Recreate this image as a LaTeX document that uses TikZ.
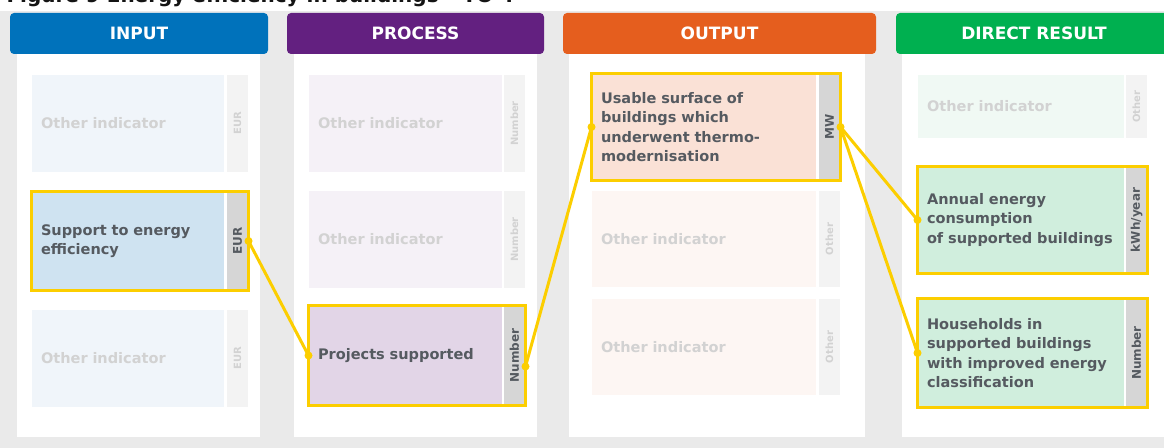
\documentclass[tikz,border=0pt]{standalone}
\usepackage{fontspec}
\setmainfont{DejaVu Sans}

\definecolor{ink}{RGB}{85,90,96}
\definecolor{fade}{RGB}{210,210,210}
\definecolor{bgcol}{RGB}{234,234,234}
\definecolor{tabgrey}{RGB}{214,214,214}
\definecolor{tabpale}{RGB}{243,243,243}
\definecolor{hlyellow}{RGB}{252,206,0}
\definecolor{inblue}{RGB}{0,114,187}
\definecolor{infill}{RGB}{207,227,241}
\definecolor{inpale}{RGB}{240,245,250}
\definecolor{prpurple}{RGB}{99,32,128}
\definecolor{prfill}{RGB}{226,213,231}
\definecolor{prpale}{RGB}{245,241,247}
\definecolor{ouorange}{RGB}{229,94,30}
\definecolor{oufill}{RGB}{250,225,214}
\definecolor{oupale}{RGB}{253,246,243}
\definecolor{drgreen}{RGB}{0,176,80}
\definecolor{drfill}{RGB}{208,238,221}
\definecolor{drpale}{RGB}{240,249,244}

\tikzset{every picture/.style={line width=0.75pt}}
\tikzset{
  hdr/.style={rectangle, rounded corners=3pt, text=white, inner sep=0pt,
    minimum height=30.75pt, font=\fontsize{12.75}{15}\selectfont\bfseries},
  ind/.style={rectangle, inner xsep=6.75pt, inner ysep=0pt, align=left, text=ink,
    font=\fontsize{10.9}{14.6}\selectfont\bfseries},
  faded/.style={ind, text=fade},
  unit/.style={rectangle, inner sep=0pt, minimum width=15.75pt, fill=tabgrey, text=ink,
    font=\fontsize{9}{9}\selectfont\bfseries},
  fadeunit/.style={unit, fill=tabpale, text=fade, font=\fontsize{7.5}{7.5}\selectfont\bfseries},
  hlbox/.style={draw=hlyellow, line width=2.25pt},
  link/.style={draw=hlyellow, line width=2.25pt},
}

\begin{document}
\begin{tikzpicture}[x=0.75pt,y=0.75pt,yscale=-1,xscale=1]
        \useasboundingbox (0,0) rectangle (1164,448);
        \clip (0,0) rectangle (1164,448);
        \fill[bgcol] (0,0) rectangle (1164,448);
        \fill[white] (0,0) rectangle (1164,11);
        \node[anchor=base west, inner sep=0pt, text={rgb,255:red,20;green,20;blue,20}, font=\fontsize{15}{18}\selectfont\bfseries] (title) at (6,3) {Figure 9 Energy efficiency in buildings – TO 4};

        % panels
        \fill[white] (17,54) rectangle (260,437);
        \fill[white] (294,54) rectangle (537,437);
        \fill[white] (569,54) rectangle (865,437);
        \fill[white] (902,54) rectangle (1164,437);

        % headers
        \node[hdr, fill=inblue, minimum width=193.5pt] (hin) at (139,33.5) {INPUT};
        \node[hdr, fill=prpurple, minimum width=192.75pt] (hpr) at (415.5,33.5) {PROCESS};
        \node[hdr, fill=ouorange, minimum width=234.75pt] (hou) at (719.5,33.5) {OUTPUT};
        \node[hdr, fill=drgreen, minimum width=207pt] (hdr) at (1034,33.5) {DIRECT RESULT};

        % input
        \node[faded, fill=inpale, text width=130.5pt, minimum height=72.75pt] (in1) at (128,123.5) {Other indicator};
        \node[fadeunit, minimum height=72.75pt] (in1u) at (237.5,123.5) {\rotatebox{90}{EUR}};
        \node[ind, fill=infill, text width=130.5pt, minimum height=73.5pt] (in2) at (128,241) {Support to energy\\efficiency};
        \node[unit, minimum height=73.5pt] (in2u) at (237.5,241) {\rotatebox{90}{EUR}};
        \node[faded, fill=inpale, text width=130.5pt, minimum height=72.75pt] (in3) at (128,358.5) {Other indicator};
        \node[fadeunit, minimum height=72.75pt] (in3u) at (237.5,358.5) {\rotatebox{90}{EUR}};

        % process
        \node[faded, fill=prpale, text width=131.25pt, minimum height=72.75pt] (pr1) at (405.5,123.5) {Other indicator};
        \node[fadeunit, minimum height=72.75pt] (pr1u) at (514.5,123.5) {\rotatebox{90}{Number}};
        \node[faded, fill=prpale, text width=131.25pt, minimum height=72.75pt] (pr2) at (405.5,239.5) {Other indicator};
        \node[fadeunit, minimum height=72.75pt] (pr2u) at (514.5,239.5) {\rotatebox{90}{Number}};
        \node[ind, fill=prfill, text width=131.25pt, minimum height=74.25pt] (pr3) at (405.5,355.5) {Projects supported};
        \node[unit, minimum height=74.25pt] (pr3u) at (514.5,355.5) {\rotatebox{90}{Number}};

        % output
        \node[ind, fill=oufill, text width=154.5pt, minimum height=79.5pt] (ou1) at (704,127) {Usable surface of\\buildings which\\underwent thermo-\\modernisation};
        \node[unit, minimum height=79.5pt] (ou1u) at (829.5,127) {\rotatebox{90}{MW}};
        \node[faded, fill=oupale, text width=154.5pt, minimum height=72pt] (ou2) at (704,239) {Other indicator};
        \node[fadeunit, minimum height=72pt] (ou2u) at (829.5,239) {\rotatebox{90}{Other}};
        \node[faded, fill=oupale, text width=154.5pt, minimum height=72pt] (ou3) at (704,347) {Other indicator};
        \node[fadeunit, minimum height=72pt] (ou3u) at (829.5,347) {\rotatebox{90}{Other}};

        % direct result
        \node[faded, fill=drpale, text width=141pt, minimum height=47.25pt] (dr1) at (1021,106.5) {Other indicator};
        \node[fadeunit, minimum height=47.25pt] (dr1u) at (1136.5,106.5) {\rotatebox{90}{Other}};
        \node[ind, fill=drfill, text width=141pt, minimum height=79.5pt] (dr2) at (1021,220) {Annual energy\\consumption\\of supported buildings};
        \node[unit, minimum height=79.5pt] (dr2u) at (1136.5,220) {\rotatebox{90}{kWh/year}};
        \node[ind, fill=drfill, text width=141pt, minimum height=81pt] (dr3) at (1021,353) {Households in\\supported buildings\\with improved energy\\classification};
        \node[unit, minimum height=81pt] (dr3u) at (1136.5,353) {\rotatebox{90}{Number}};

        % highlighted chain
        \draw[hlbox] (in2.north west) rectangle (in2u.south east);
        \draw[hlbox] (pr3.north west) rectangle (pr3u.south east);
        \draw[hlbox] (ou1.north west) rectangle (ou1u.south east);
        \draw[hlbox] (dr2.north west) rectangle (dr2u.south east);
        \draw[hlbox] (dr3.north west) rectangle (dr3u.south east);

        \coordinate (pr3out) at ([yshift=8.25pt]pr3u.east);
        \draw[link] (in2u.east) -- (pr3.west);
        \draw[link] (pr3out) -- (ou1.west);
        \draw[link] (ou1u.east) -- (dr2.west);
        \draw[link] (ou1u.east) -- (dr3.west);
        \fill[hlyellow] (in2u.east) circle (3pt) (pr3.west) circle (3pt);
        \fill[hlyellow] (pr3out) circle (3pt) (ou1.west) circle (3pt);
        \fill[hlyellow] (ou1u.east) circle (3pt) (dr2.west) circle (3pt) (dr3.west) circle (3pt);
    \end{tikzpicture}
\end{document}
